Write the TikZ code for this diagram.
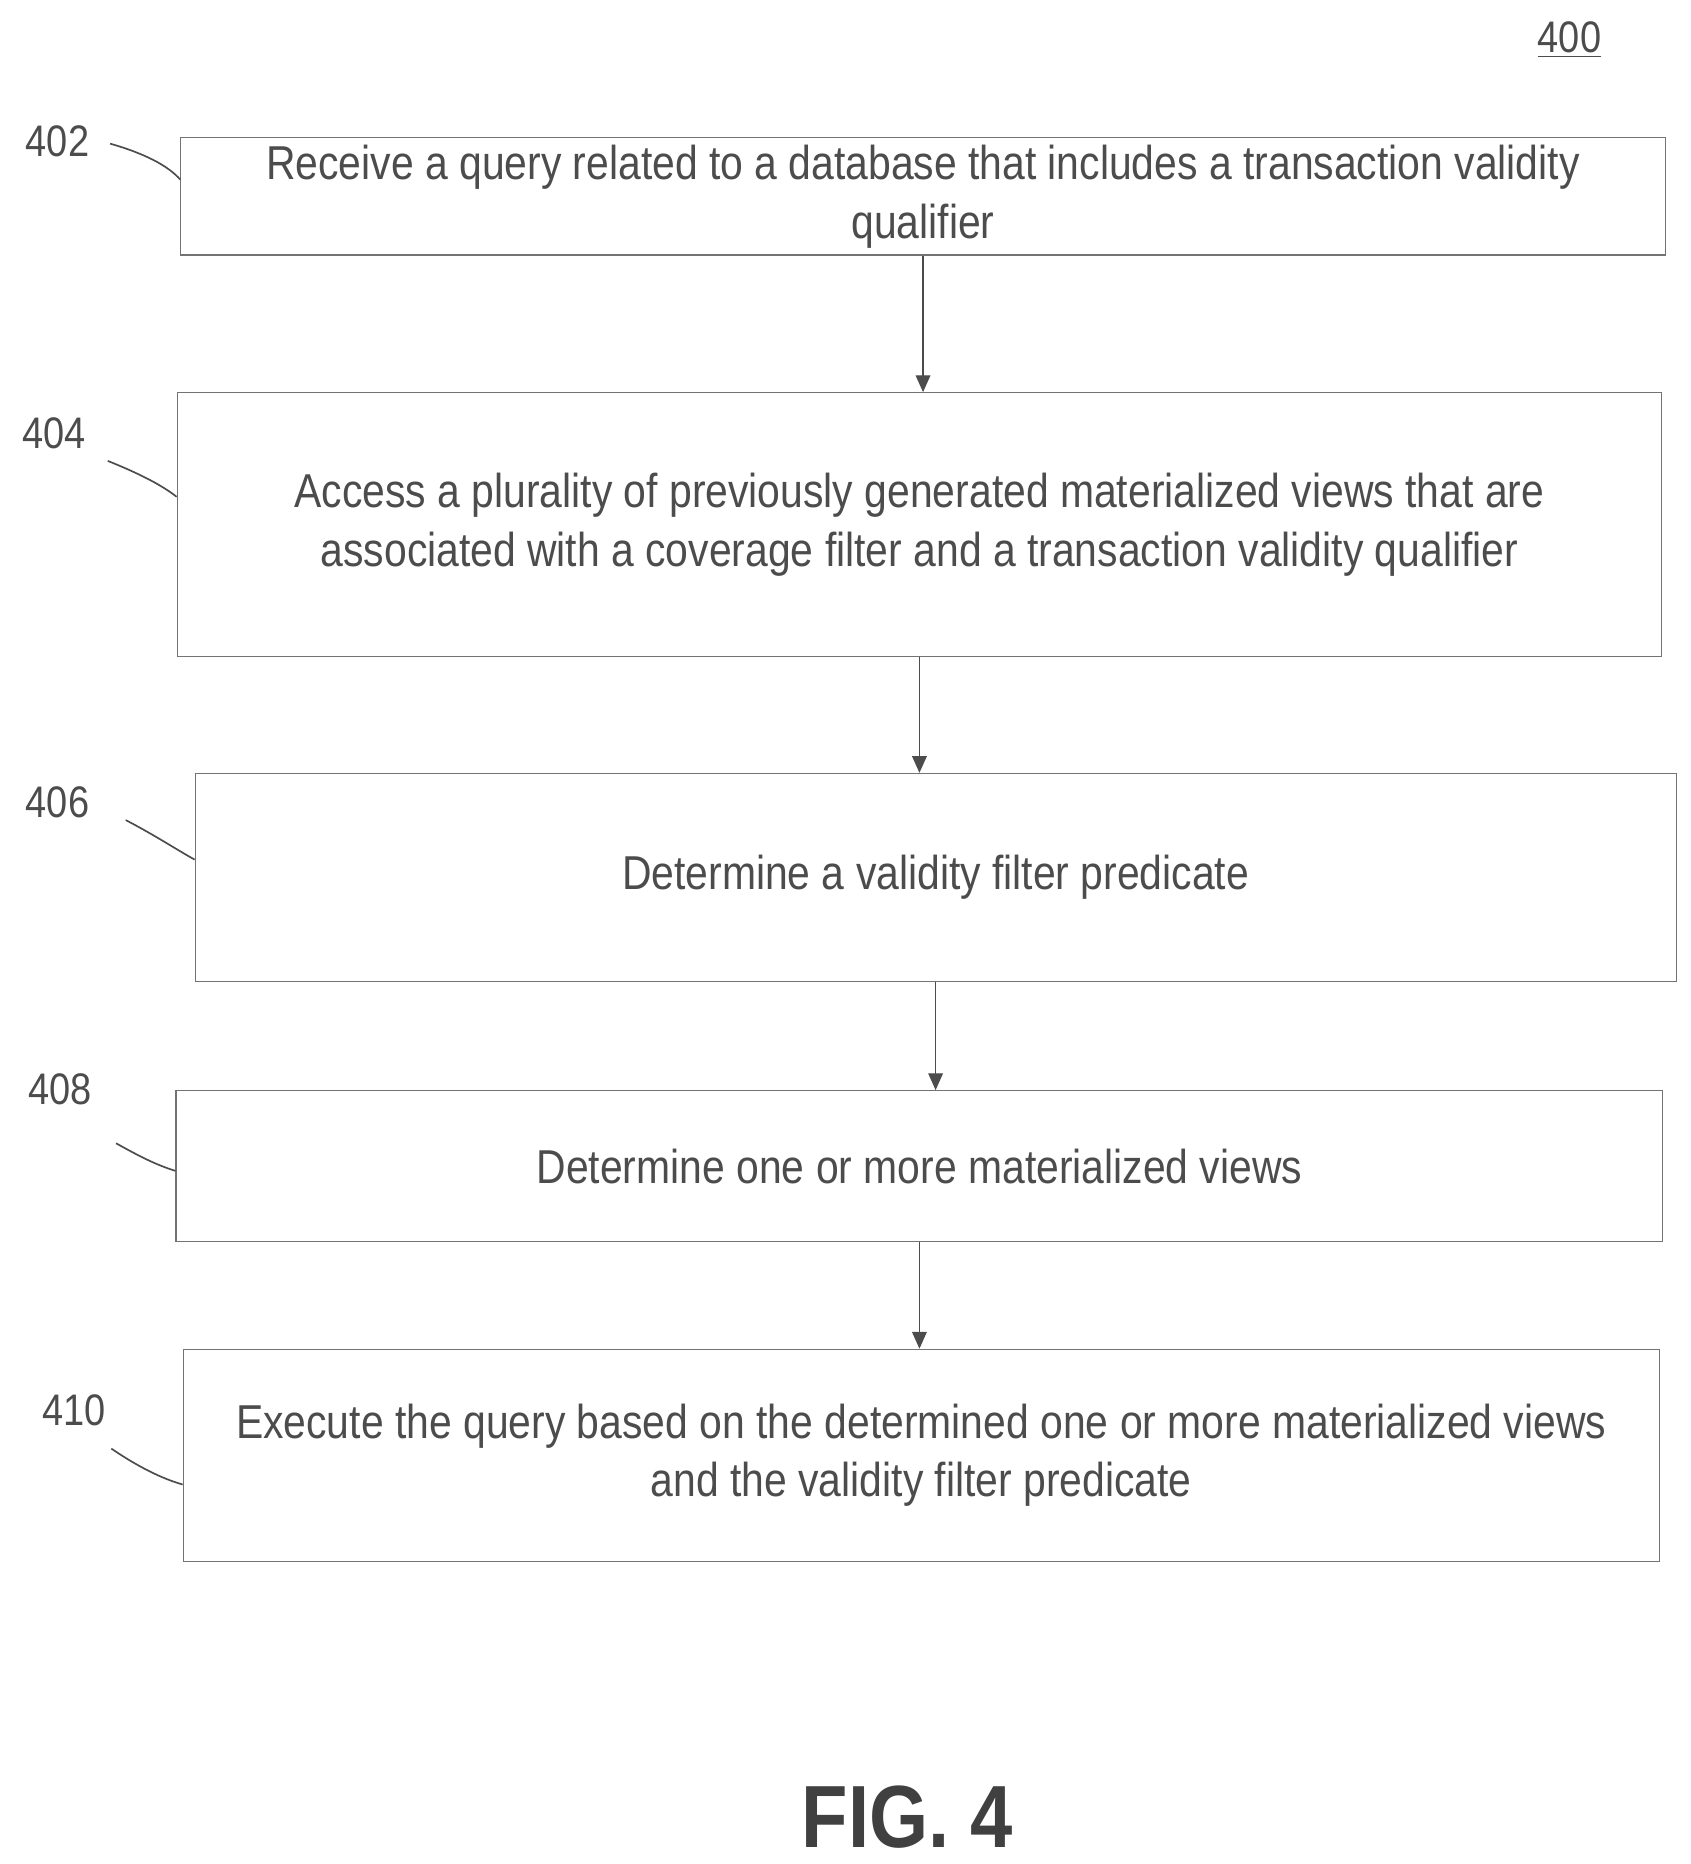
\documentclass[tikz,border=0pt]{standalone}
\usepackage{fontspec}
\setmainfont{Liberation Sans}[FakeStretch=0.86]
\usetikzlibrary{arrows.meta}
\begin{document}
\def\u{0.02cm}
\begin{tikzpicture}[x=0.02cm,y=-0.02cm,
 box/.style={draw=black!55,line width=0.5pt,text=black!70,align=center,font=\fontsize{22.6}{28}\selectfont,inner sep=0pt},
 lbl/.style={text=black!70,font=\fontsize{21}{24}\selectfont},
 arr/.style={draw=black!70,line width=0.6pt,-{Triangle[length=8pt,width=7pt]}},
 lead/.style={draw=black!70,line width=0.8pt}]
\useasboundingbox (0,0) rectangle (1412,1557);
\node[box,minimum width=1240*\u,minimum height=98*\u] (b402) at (771,164) {Receive a query related to a database that includes a transaction validity\\qualifier};
\node[box,minimum width=1240*\u,minimum height=220*\u] (b404) at (768,438) {Access a plurality of previously generated materialized views that are\\associated with a coverage filter and a transaction validity qualifier};
\node[box,minimum width=1237*\u,minimum height=174*\u] (b406) at (781.5,733) {Determine a validity filter predicate};
\node[box,minimum width=1242*\u,minimum height=126*\u] (b408) at (768,974) {Determine one or more materialized views};
\node[box,minimum width=1233*\u,minimum height=177*\u] (b410) at (769.5,1215.5) {Execute the query based on the determined one or more materialized views\\and the validity filter predicate};
\draw[arr] (b402.south) -- (b402.south |- b404.north);
\draw[arr] (b404.south) -- (b404.south |- b406.north);
\draw[arr] (b406.south) -- (b406.south |- b408.north);
\draw[arr] (b408.south) -- (b408.south |- b410.north);
\node[lbl] (l402) at (48,118) {402};
\node[lbl] (l404) at (45,362) {404};
\node[lbl] (l406) at (48,670) {406};
\node[lbl] (l408) at (50,910) {408};
\node[lbl] (l410) at (62,1178) {410};
\draw[lead] (92,120) .. controls (120,128) and (140,138) .. (b402.west |- 0,150);
\draw[lead] (90,385) .. controls (115,395) and (135,405) .. (b404.west |- 0,415);
\draw[lead] (105,685) .. controls (130,698) and (148,710) .. (b406.west |- 0,718);
\draw[lead] (97,955) .. controls (115,965) and (130,973) .. (b408.west |- 0,978);
\draw[lead] (93,1210) .. controls (115,1225) and (135,1235) .. (b410.west |- 0,1240);
\node[lbl] (n400) at (1311,33) {\underline{400}};
\node[text=black!75,font=\fontsize{42}{46}\selectfont\bfseries] (fig) at (758,1518) {FIG. 4};
\end{tikzpicture}
\end{document}
